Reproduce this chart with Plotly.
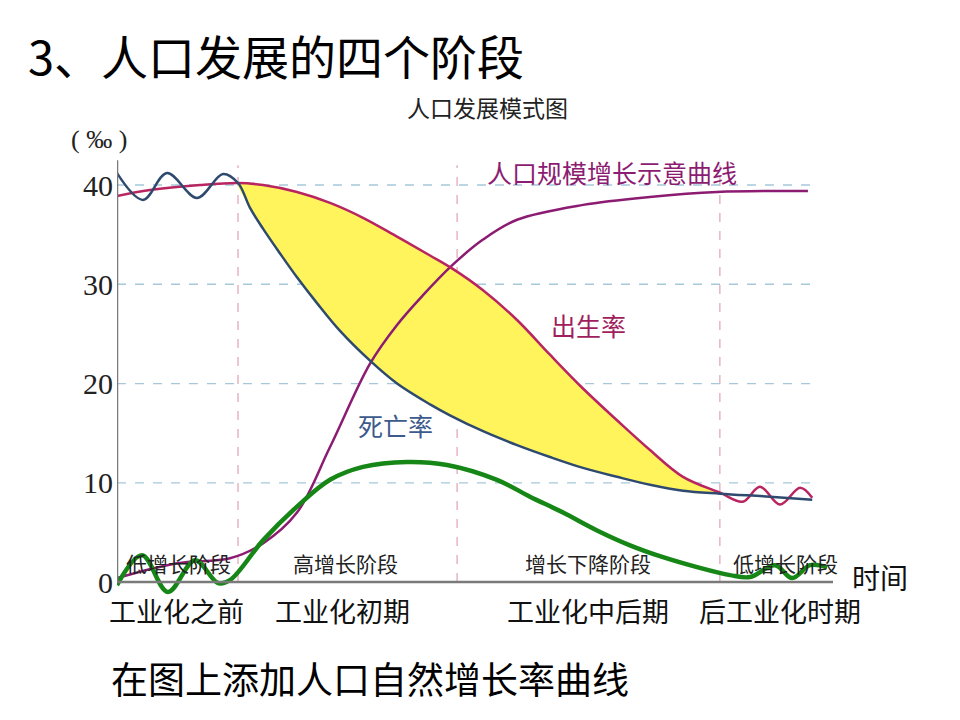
import plotly.graph_objects as go

# ---- data (time in arbitrary units 0-100, rates in ‰) ----
death_x = [0, 3.63, 6.98, 11.17, 14.8, 16.9, 18.58, 20.39, 22.77, 25.14, 27.93, 31.15, 35.34, 39.11, 43.72, 46.5,
           51.12, 55.87, 60.47, 65.08, 69.83, 74.44, 79.05, 84.22, 91.2, 97.1]
death_y = [41.2, 38.5, 41.2, 38.7, 41.1, 40.2, 37.7, 35.6, 33.1, 30.7, 28.1, 25.3, 22.3, 20.0, 17.9, 16.8,
           15.2, 13.8, 12.6, 11.5, 10.6, 9.8, 9.2, 8.9, 8.6, 8.3]

birth_x = [0, 4.6, 11.6, 16.9, 20.39, 25.14, 29.75, 34.36, 39.11, 43.72, 46.79, 51.12, 55.87, 60.47, 65.08,
           69.83, 74.44, 79.05, 84.22, 87.4, 89.8, 92.6, 95.4, 97.1]
birth_y = [38.9, 39.5, 40.0, 40.2, 40.0, 39.3, 38.2, 36.7, 34.8, 32.9, 31.6, 29.4, 26.4, 22.9, 19.5,
           16.3, 13.3, 10.6, 9.0, 8.1, 9.6, 7.8, 9.5, 8.5]

pop_x = [0, 8.4, 15.78, 20.39, 25.14, 29.75, 35.34, 39.11, 42.74, 46.79, 51.12, 55.87, 65.1, 74.4, 83.8, 96.5]
pop_y = [0.4, 1.9, 2.4, 3.9, 7.0, 13.6, 22.0, 25.9, 28.9, 31.9, 34.5, 36.5, 38.0, 38.8, 39.3, 39.4]

nat_x = [0, 3.5, 7.1, 10.9, 14.1, 15.78, 20.39, 25.14, 29.75, 34.36, 40.5, 46.09, 53.07, 57.68, 62.29, 67.04,
         71.65, 76.26, 81.01, 85.61, 88.4, 91.9, 94.3, 96.8, 99.2]
nat_y = [-0.3, 2.7, -1.0, 2.2, -0.1, 0.2, 4.2, 7.6, 10.3, 11.6, 12.1, 11.8, 10.3, 8.6, 7.0, 5.2,
         3.7, 2.5, 1.5, 0.7, 0.5, 1.7, 0.4, 1.7, 1.5]

stage_bounds = [16.9, 47.5, 84.2]
y_ticks = [0, 10, 20, 30, 40]
stage_names = ["低增长阶段", "高增长阶段", "增长下降阶段", "低增长阶段"]
period_names = ["工业化之前", "工业化初期", "工业化中后期", "后工业化时期"]

CJK = "Noto Sans CJK SC"
SERIF = "Liberation Serif"

def px(x):
    return x / 960.0

def py(y):
    return 1 - y / 720.0

fig = go.Figure()

# yellow fill between birth and death during the transition
fb = [i for i, x in enumerate(birth_x) if stage_bounds[0] <= x <= stage_bounds[2] + 0.1]
fd = [i for i, x in enumerate(death_x) if stage_bounds[0] <= x <= stage_bounds[2] + 0.1]
fx = [birth_x[i] for i in fb] + [death_x[i] for i in reversed(fd)]
fy = [birth_y[i] for i in fb] + [death_y[i] for i in reversed(fd)]
fig.add_trace(go.Scatter(x=fx, y=fy, mode="lines", fill="toself",
                         fillcolor="#FFF45C", line=dict(width=0, shape="spline", smoothing=0.8),
                         hoverinfo="skip", showlegend=False))

fig.add_trace(go.Scatter(x=pop_x, y=pop_y, mode="lines",
                         line=dict(color="#8C1C72", width=2.5, shape="spline", smoothing=1.0),
                         showlegend=False, name="人口规模"))
fig.add_trace(go.Scatter(x=birth_x, y=birth_y, mode="lines",
                         line=dict(color="#B82560", width=2.5, shape="spline", smoothing=1.0),
                         showlegend=False, name="出生率"))
fig.add_trace(go.Scatter(x=death_x, y=death_y, mode="lines",
                         line=dict(color="#2F4A6F", width=2.5, shape="spline", smoothing=1.0),
                         showlegend=False, name="死亡率"))
fig.add_trace(go.Scatter(x=nat_x, y=nat_y, mode="lines",
                         line=dict(color="#168716", width=4.5, shape="spline", smoothing=1.0),
                         showlegend=False, name="自然增长率"))

shapes = []
for b in stage_bounds:
    shapes.append(dict(type="line", xref="x", yref="y", x0=b, x1=b, y0=0, y1=42,
                       line=dict(color="#E2A9B9", width=1.3, dash="dash"), layer="below"))
for t in y_ticks[1:]:
    shapes.append(dict(type="line", xref="x", yref="y", x0=0, x1=97.1, y0=t, y1=t,
                       line=dict(color="#A6C8DA", width=1.3, dash="dash"), layer="below"))
# axis lines
shapes.append(dict(type="line", xref="x", yref="y", x0=0, x1=100, y0=0, y1=0,
                   line=dict(color="#7A7A7A", width=2.5)))
shapes.append(dict(type="line", xref="x", yref="y", x0=0, x1=0, y0=0, y1=42.5,
                   line=dict(color="#7A7A7A", width=2.5)))

ann = []
def text(t, x, y, size, color="#111", font=CJK, xanchor="center"):
    ann.append(dict(text=t, x=px(x), y=py(y), xref="paper", yref="paper",
                    showarrow=False, xanchor=xanchor, yanchor="middle",
                    font=dict(family=font, size=size, color=color)))

text("3、人口发展的四个阶段", 26, 55, 47, "#000", xanchor="left")
text("人口发展模式图", 487, 107, 23, "#222")
text("( ‰ )", 99, 139, 26, "#222", font=SERIF)
text("人口规模增长示意曲线", 612, 172, 25, "#8C1C72")
text("出生率", 588, 325, 25, "#A01E5E")
text("死亡率", 395, 425, 25, "#3D5A8C")
for name, cx in zip(stage_names, [178, 345, 588, 785]):
    text(name, cx, 563, 21, "#222")
for name, cx in zip(period_names, [176, 342, 588, 780]):
    text(name, cx, 610, 27, "#111")
text("时间", 880, 577, 28, "#111")
text("在图上添加人口自然增长率曲线", 370, 678, 37, "#000")

fig.update_layout(
    width=960, height=720,
    margin=dict(l=0, r=0, t=0, b=0),
    paper_bgcolor="white", plot_bgcolor="white",
    showlegend=False,
    shapes=shapes, annotations=ann,
    xaxis=dict(domain=[117 / 960, 833 / 960], range=[0, 100],
               showgrid=False, zeroline=False, showticklabels=False, showline=False),
    yaxis=dict(domain=[(720 - 601.9) / 720, (720 - 145.3) / 720], range=[-2, 44],
               showgrid=False, zeroline=False, showline=False,
               tickvals=y_ticks, ticktext=[str(v) for v in y_ticks],
               ticks="", ticklabelstandoff=3,
               tickfont=dict(family=SERIF, size=30, color="#222")),
)

fig.write_html("out.html")
